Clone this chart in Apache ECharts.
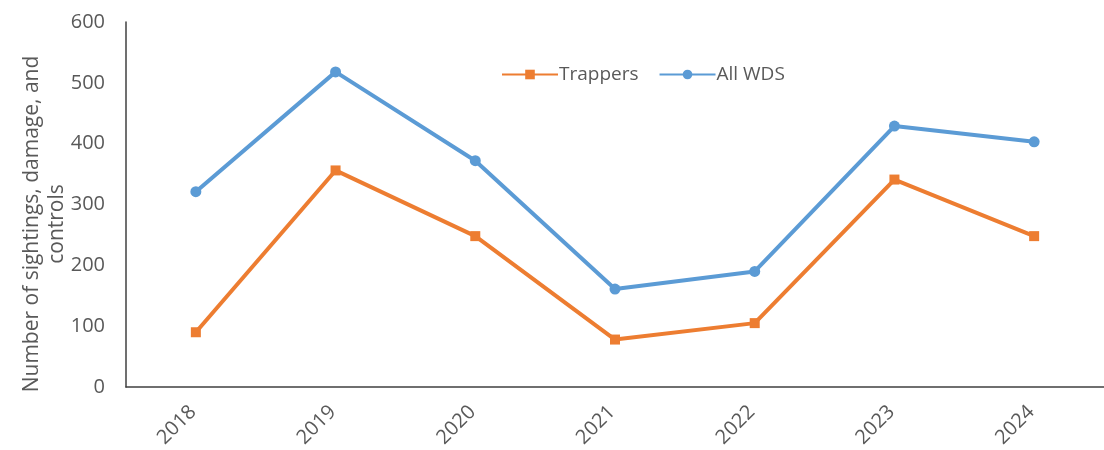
<!DOCTYPE html>
<html>
<head>
<meta charset="utf-8">
<script src="https://cdn.jsdelivr.net/npm/echarts@6/dist/echarts.min.js"></script>
<style>
html,body{margin:0;padding:0;background:#fff;}
#chart{width:1104px;height:450px;}
</style>
</head>
<body>
<div id="chart"></div>
<script>
const years = ['2018','2019','2020','2021','2022','2023','2024'];
const trappers = [90, 356, 248, 78, 105, 341, 248];
const allWDS = [321, 518, 372, 161, 190, 429, 403];
const yTicks = [0, 100, 200, 300, 400, 500, 600];
const yTitle = 'Number of sightings, damage, and\ncontrols';

const font = '"Open Sans", sans-serif';
const textColor = '#595959';
const chart = echarts.init(document.getElementById('chart'));
chart.setOption({
  animation: false,
  backgroundColor: '#ffffff',
  grid: {left: 126, right: 0, top: 22, bottom: 63, containLabel: false, outerBoundsMode: 'none'},
  legend: {
    left: 496, top: 60,
    itemWidth: 56, itemHeight: 12, itemGap: 20,
    textStyle: {fontFamily: font, fontSize: 19, color: textColor, padding: [0, 0, 0, -4]},
    data: ['Trappers', 'All WDS']
  },
  xAxis: {
    type: 'category',
    data: years,
    boundaryGap: true,
    axisLine: {lineStyle: {color: '#404040', width: 1.5}},
    axisTick: {show: false},
    axisLabel: {rotate: 45, margin: 19, padding: [0, 4, 0, 0], fontFamily: font, fontSize: 20, color: textColor}
  },
  yAxis: {
    type: 'value',
    min: yTicks[0], max: yTicks[yTicks.length - 1], interval: 100,
    axisLine: {show: true, lineStyle: {color: '#404040', width: 1.5}},
    axisTick: {show: false},
    splitLine: {show: false},
    axisLabel: {margin: 21, fontFamily: font, fontSize: 20, color: textColor}
  },
  graphic: [{
    type: 'text',
    x: 45, y: 224,
    rotation: Math.PI / 2,
    style: {
      text: yTitle,
      font: '21px "Open Sans", sans-serif',
      fill: textColor,
      align: 'center',
      verticalAlign: 'middle',
      lineHeight: 25
    }
  }],
  series: [
    {
      name: 'Trappers', type: 'line', data: trappers,
      symbol: 'rect', symbolSize: 10,
      lineStyle: {color: '#ED7D31', width: 4},
      itemStyle: {color: '#ED7D31'}
    },
    {
      name: 'All WDS', type: 'line', data: allWDS,
      symbol: 'circle', symbolSize: 11,
      lineStyle: {color: '#5B9BD5', width: 4},
      itemStyle: {color: '#5B9BD5'}
    }
  ]
});
</script>
</body>
</html>
